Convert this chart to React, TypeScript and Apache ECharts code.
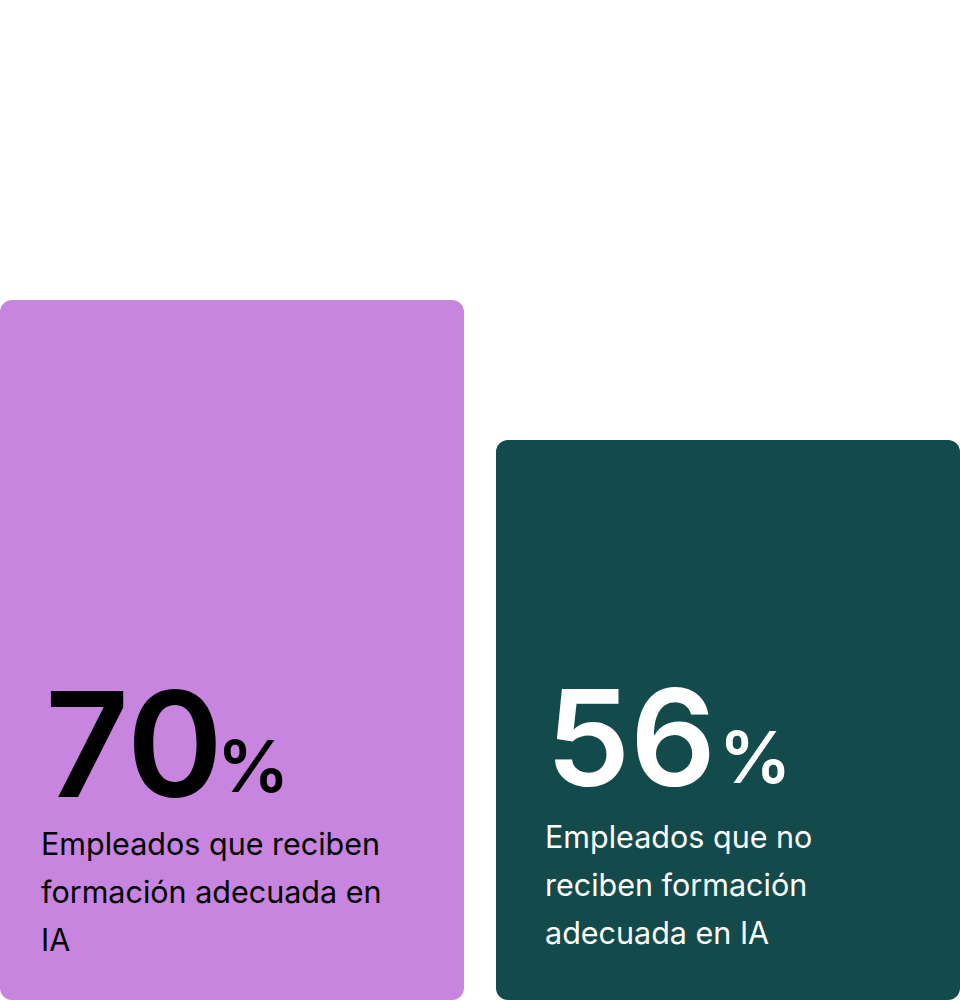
import React, { useEffect, useRef } from "react";
import * as echarts from "echarts";

const categories = ["Reciben formación", "No reciben formación"];
const values = [70, 56];
const descriptions = [
  ["Empleados que reciben", "formación adecuada en", "IA"],
  ["Empleados que no", "reciben formación", "adecuada en IA"],
];
const barColors = ["#C785DF", "#134A4B"];
const textColors = ["#000000", "#FFFFFF"];

const OFFSET = 16; // container is shifted left by this amount

export default function App() {
  const ref = useRef<HTMLDivElement>(null);
  useEffect(() => {
    if (!ref.current) return;
    const chart = echarts.init(ref.current, undefined, { renderer: "svg" });
    const font = "Inter, 'Noto Sans', sans-serif";
    const numPos = [
      { x: 45, y: 744, size: 146 },
      { x: 546, y: 737, size: 134 },
    ];
    const pctPos = [
      { x: 217, y: 765, size: 72 },
      { x: 719, y: 756, size: 72 },
    ];
    const descPos = [
      { x: 41, y: 819 },
      { x: 545, y: 812 },
    ];
    const graphics: any[] = [];
    values.forEach((v, i) => {
      graphics.push({
        type: "text",
        z: 100,
        x: numPos[i].x + OFFSET,
        y: numPos[i].y,
        style: {
          text: String(v),
          fill: textColors[i],
          font: `600 ${numPos[i].size}px ${font}`,
          lineHeight: 100,
          verticalAlign: "middle",
          align: "left",
        },
      });
      graphics.push({
        type: "text",
        z: 100,
        x: pctPos[i].x + OFFSET,
        y: pctPos[i].y,
        style: {
          text: "%",
          fill: textColors[i],
          font: `600 ${pctPos[i].size}px ${font}`,
          lineHeight: 50,
          verticalAlign: "middle",
          align: "left",
        },
      });
      graphics.push({
        type: "text",
        z: 100,
        x: descPos[i].x + OFFSET,
        y: descPos[i].y,
        style: {
          text: descriptions[i].join("\n"),
          fill: textColors[i],
          font: `400 30.5px ${font}`,
          lineHeight: 48,
          verticalAlign: "top",
          align: "left",
        },
      });
    });
    chart.setOption({
      animation: false,
      grid: { left: 0, right: 0, top: 0, bottom: 0, containLabel: false },
      xAxis: {
        type: "category",
        data: categories,
        show: false,
      },
      yAxis: { type: "value", min: 0, max: 100, show: false },
      series: [
        {
          type: "bar",
          barWidth: 464,
          z: 2,
          data: values.map((v, i) => ({
            value: v,
            itemStyle: { color: barColors[i], borderRadius: 12 },
          })),
        },
      ],
      graphic: { elements: graphics },
    });
    return () => chart.dispose();
  }, []);
  return (
    <div style={{ position: "fixed", left: 0, top: 0, width: 960, height: 1000, overflow: "hidden", background: "#fff" }}>
      <div
        ref={ref}
        style={{ position: "absolute", left: -OFFSET, top: 0, width: 960 + 2 * OFFSET, height: 1000 }}
      />
    </div>
  );
}
